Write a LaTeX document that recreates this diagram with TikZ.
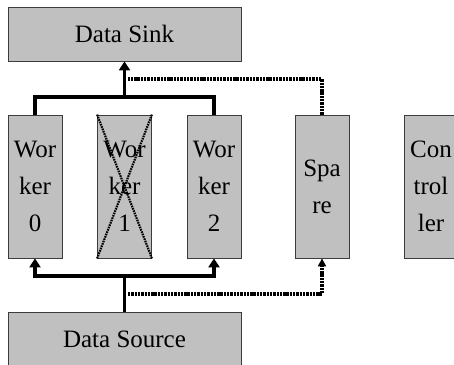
\documentclass[tikz,border=0pt]{standalone}
\usepackage{fontspec}
\setmainfont{Liberation Serif}
\usetikzlibrary{arrows.meta}
\definecolor{boxgray}{RGB}{192,192,192}
\definecolor{edgegray}{RGB}{60,60,60}
\begin{document}
\begin{tikzpicture}[x=1pt, y=-1pt]
  \tikzstyle{box}=[draw=edgegray, fill=boxgray, line width=0.8pt, inner sep=0pt,
    align=center, font=\fontsize{25}{37}\selectfont]
  \tikzstyle{wide}=[box, minimum width=233pt, minimum height=54pt]
  \tikzstyle{tall}=[box, minimum width=54pt, minimum height=143pt]
  \tikzstyle{link}=[line width=3.2pt, black]
  \tikzstyle{arr}=[link, -{Triangle[width=11pt, length=9pt]}]
  \tikzstyle{dots}=[line width=3.4pt, dash pattern=on 2.4pt off 0.9pt]
  \tikzstyle{dotarr}=[dots, -{Triangle[width=8pt, length=8pt]}]
  \tikzstyle{cross}=[line width=2.2pt, dash pattern=on 1.6pt off 0.9pt]

  \useasboundingbox (0,0) rectangle (454,364);
  \clip (0,0) rectangle (454,364);

  \node[wide] (sink)   at (124.5, 34)    {Data Sink};
  \node[tall] (w0)     at (35,    186.5) {Wor\\ker\\0};
  \node[tall] (w1)     at (124.5, 186.5) {Wor\\ker\\1};
  \node[tall] (w2)     at (214,   186.5) {Wor\\ker\\2};
  \node[tall] (spare)  at (322,   186.5) {Spa\\re};
  \node[tall] (ctrl)   at (431,   186.5) {Con\\trol\\ler};
  \node[wide] (source) at (124.5, 339)   {Data Source};

  \coordinate (jtop) at (124.5, 97);
  \coordinate (dtop) at (128,   79);
  \coordinate (jbot) at (124.5, 276);
  \coordinate (dbot) at (128,   294);

  \draw[cross] (w1.north west) -- (w1.south east);
  \draw[cross] (w1.north east) -- (w1.south west);

  \draw[link] (w0.north) |- (jtop) -| (w2.north);
  \draw[arr] (jtop) -- (sink.south);
  \draw[dots] (spare.north) |- (dtop);

  \draw[link] (source.north) -- (jbot);
  \draw[arr] (jbot) -| (w0.south);
  \draw[arr] (jbot) -| (w2.south);
  \draw[dotarr] (dbot) -| (spare.south);
\end{tikzpicture}
\end{document}
